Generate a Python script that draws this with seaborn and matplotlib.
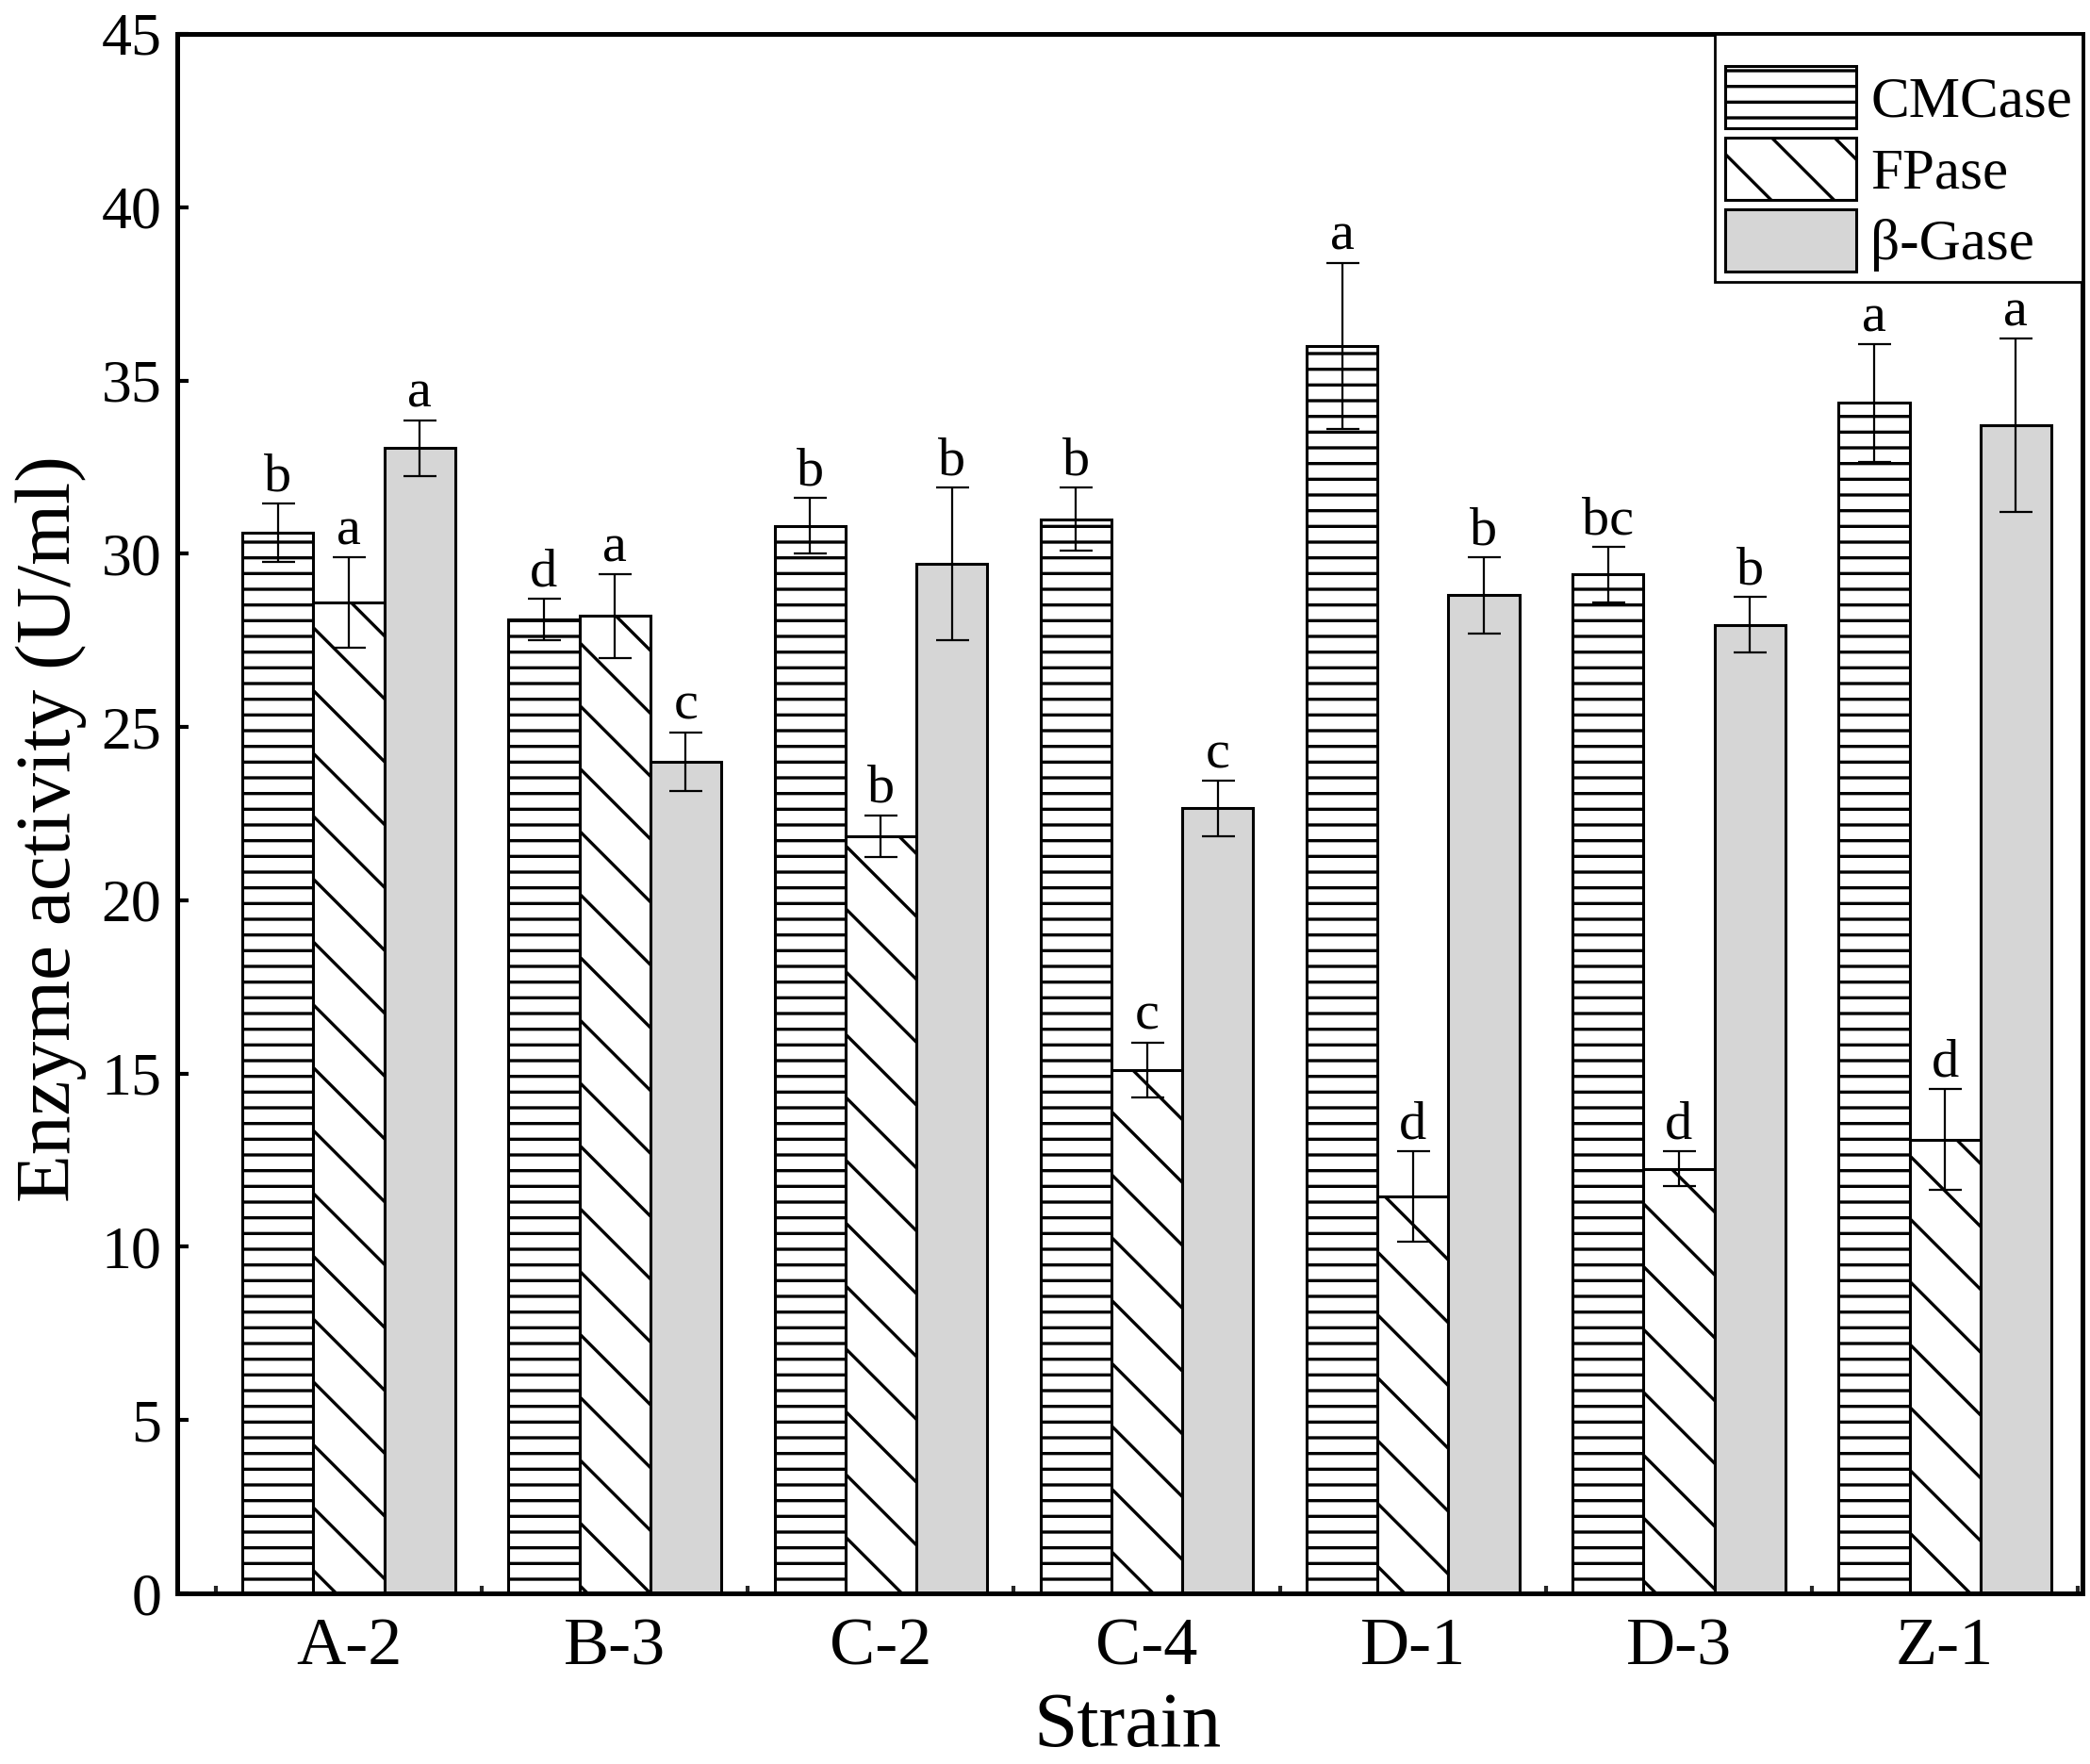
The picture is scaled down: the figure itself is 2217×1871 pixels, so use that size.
import numpy as np
import pandas as pd
import matplotlib
matplotlib.use("Agg")
import matplotlib.pyplot as plt
import seaborn as sns
from matplotlib.ticker import MultipleLocator, FixedLocator

strains = ["A-2", "B-3", "C-2", "C-4", "D-1", "D-3", "Z-1"]
enzymes = ["CMCase", "FPase", "\u03b2-Gase"]

cmcase = [30.6, 28.1, 30.8, 31.0, 36.0, 29.4, 34.35]
fpase = [28.6, 28.2, 21.85, 15.1, 11.45, 12.25, 13.1]
bgase = [33.05, 24.0, 29.7, 22.65, 28.8, 27.95, 33.7]

cmcase_err = [0.85, 0.6, 0.8, 0.9, 2.4, 0.8, 1.7]
fpase_err = [1.3, 1.2, 0.6, 0.8, 1.3, 0.5, 1.45]
bgase_err = [0.8, 0.85, 2.2, 0.8, 1.1, 0.8, 2.5]

cmcase_lab = ["b", "d", "b", "b", "a", "bc", "a"]
fpase_lab = ["a", "a", "b", "c", "d", "d", "d"]
bgase_lab = ["a", "c", "b", "c", "b", "b", "a"]

values = [cmcase, fpase, bgase]
errors = [cmcase_err, fpase_err, bgase_err]
letters = [cmcase_lab, fpase_lab, bgase_lab]

rows = []
for e, vals in zip(enzymes, values):
    for s, v in zip(strains, vals):
        rows.append({"Strain": s, "Enzyme": e, "Activity": v})
df = pd.DataFrame(rows)

sns.set_style("ticks")
plt.rcParams["font.family"] = ["Liberation Serif", "DejaVu Serif"]
plt.rcParams["hatch.linewidth"] = 1.2
plt.rcParams["axes.linewidth"] = 1.8

DPI = 200
fig = plt.figure(figsize=(2217 / DPI, 1871 / DPI), dpi=DPI)
ax = fig.add_axes([0.0848, 0.0967, 0.9964 - 0.0848, 0.9808 - 0.0967])

palette = {"CMCase": "white", "FPase": "white", "\u03b2-Gase": "#d6d6d6"}
sns.barplot(data=df, x="Strain", y="Activity", hue="Enzyme", order=strains,
            hue_order=enzymes, palette=palette, edgecolor="black",
            linewidth=1.1, width=0.8, errorbar=None, saturation=1, ax=ax,
            legend=False)

bar_containers = list(ax.containers)
hatches = ["--", "\\", None]
for cont, h, errs, labs in zip(bar_containers, hatches, errors, letters):
    xs = []
    ys = []
    for bar in cont:
        if h:
            bar.set_hatch(h)
        xs.append(bar.get_x() + bar.get_width() / 2)
        ys.append(bar.get_height())
    ax.errorbar(xs, ys, yerr=errs, fmt="none", ecolor="black",
                elinewidth=0.8, capsize=6.3, capthick=0.8, zorder=5)
    for x, y, er, lab in zip(xs, ys, errs, labs):
        ax.annotate(lab, (x, y + er), xytext=(0, 5), textcoords="offset points",
                    ha="center", va="baseline", fontsize=21, color="black")

ax.set_xlim(-0.645, 6.517)
ax.set_ylim(0, 45)
ax.yaxis.set_major_locator(MultipleLocator(5))
ax.xaxis.set_minor_locator(FixedLocator(np.arange(-0.5, 7.0, 1.0)))
ax.tick_params(axis="y", direction="in", length=4.3, width=1.5, labelsize=23,
               pad=6, colors="black")
ax.tick_params(axis="x", which="major", direction="in", length=4.3, width=1.5,
               labelsize=26, pad=9, colors="black")
ax.tick_params(axis="x", which="minor", direction="in", length=3, width=1.5)
for sp in ax.spines.values():
    sp.set_visible(True)
    sp.set_color("black")
    sp.set_linewidth(1.8)

ax.set_xlabel("Strain", fontsize=30, color="black", va="center")
ax.set_ylabel("Enzyme activity (U/ml)", fontsize=30, color="black", va="center")
ax.xaxis.set_label_coords(0.4988, -0.086)
ax.yaxis.set_label_coords(-0.0663, 0.49)

handles = [cont.patches[0] for cont in bar_containers]
leg = ax.legend(handles, enzymes, loc="upper right", fontsize=22, frameon=True,
                fancybox=False, edgecolor="black", borderaxespad=0.0,
                handlelength=2.27, handleheight=1.28, labelspacing=0.16,
                handletextpad=0.25, borderpad=0.18, title=" ",
                title_fontsize=5)
leg.get_frame().set_linewidth(1.0)
leg.get_frame().set_alpha(1)
for t in leg.get_texts():
    t.set_color("black")

fig.savefig("out.png", dpi=DPI)
